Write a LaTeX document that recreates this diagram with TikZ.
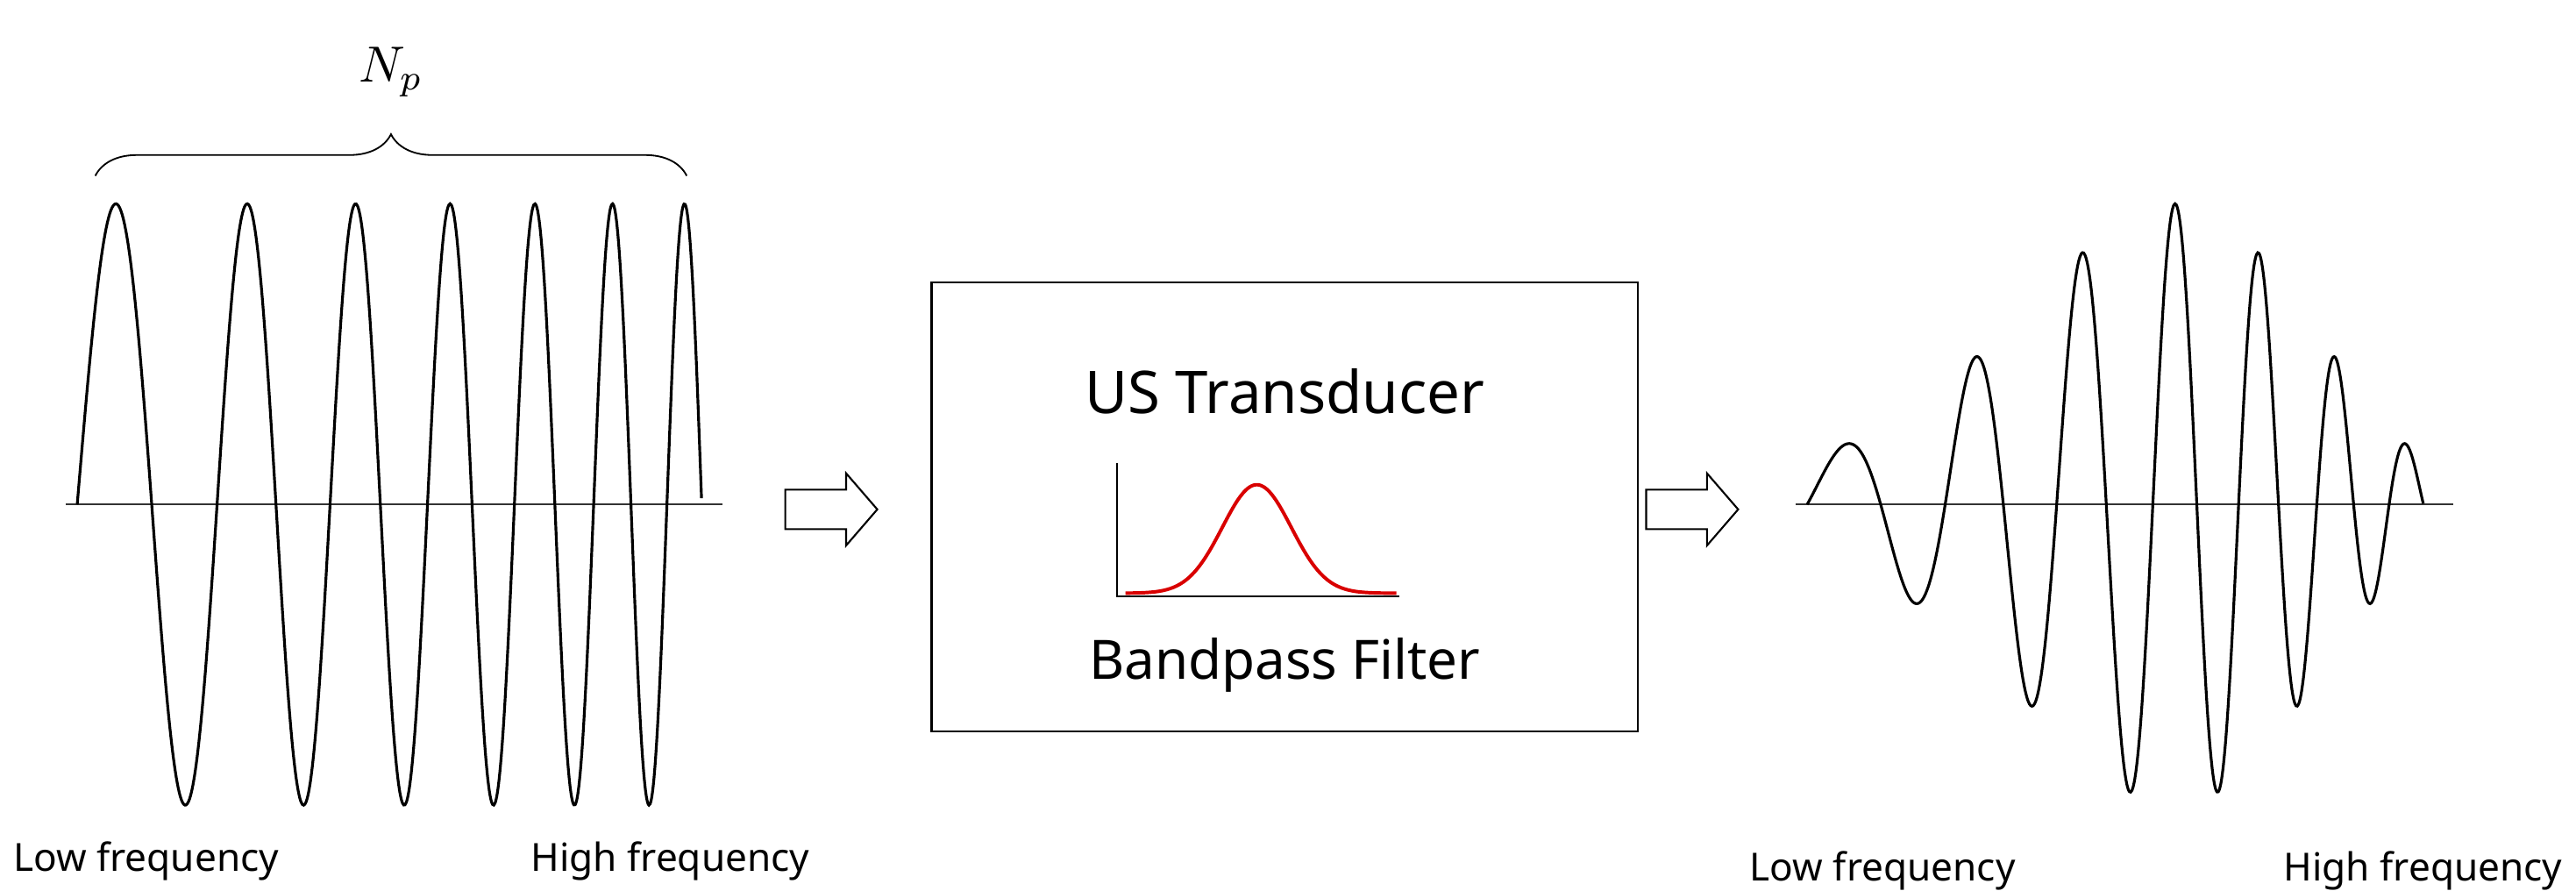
\documentclass[tikz,border=0pt]{standalone}
\usepackage{fontspec}
\setmainfont{Noto Sans}
\usetikzlibrary{decorations.pathreplacing}
\begin{document}
\begin{tikzpicture}[x=0.5mm,y=-0.5mm,
  declare function={ph(\t)=0.0641*\t+1.14*(\t/100)*(\t/100); dv(\t)=(ph(\t)-20.42)/10.5; gs(\t)=(\t-765)/21;},
  wave/.style={line width=2.4pt,black},
  axis/.style={line width=1.2pt,black!80},
  lbl/.style={font=\fontsize{33.5}{38}\selectfont,anchor=base west,inner sep=0pt},
  harrow/.style={line width=1.6pt,fill=white}]
\useasboundingbox (0,0) rectangle (1568,542);
% left chirp
\coordinate (la) at (40,307); \coordinate (lb) at (440,307);
\draw[axis] (la) -- (lb);
\draw[wave,domain=0:380,samples=500,smooth] plot ({47+\x},{307-183*sin(ph(\x) r)});
\coordinate (b1) at (58,107); \coordinate (b2) at (418,107);
\draw[line width=1.4pt,decorate,decoration={brace,amplitude=36}] (b1) -- (b2);
\node[scale=4.4] (np) at (238,44) {$N_p$};
\node[lbl] (l1) at (8,530) {Low frequency};
\node[lbl] (l2) at (323,530) {High frequency};
% arrows
\draw[harrow] (478,298) -- (515,298) -- (515,288) -- (534,310) -- (515,332) -- (515,322) -- (478,322) -- cycle;
\draw[harrow] (1002,298) -- (1039,298) -- (1039,288) -- (1058,310) -- (1039,332) -- (1039,322) -- (1002,322) -- cycle;
% box
\node[draw,line width=1.8pt,minimum width=215mm,minimum height=136.5mm,inner sep=0pt] (box) at (782,308.5) {};
\node[font=\fontsize{51}{56}\selectfont] (us) at (782,238) {US Transducer};
\node[font=\fontsize{47}{52}\selectfont] (bp) at (782,405) {Bandpass Filter};
\coordinate (o) at (680,363);
\draw[line width=1.4pt] (680,282) -- (o) -- (852,363);
\draw[red!85!black,line width=3pt,domain=685:850,samples=200,smooth] plot (\x,{361-66*exp(-0.5*gs(\x)*gs(\x))});
% right chirp
\draw[axis] (1093,307) -- (1493,307);
\draw[wave,domain=0:380,samples=500,smooth] plot ({1100+\x*0.98684},{307-183*exp(-0.5*dv(\x)*dv(\x))*sin(ph(\x) r)});
\node[lbl] (r1) at (1065,536) {Low frequency};
\node[lbl] (r2) at (1390,536) {High frequency};
\end{tikzpicture}
\end{document}
